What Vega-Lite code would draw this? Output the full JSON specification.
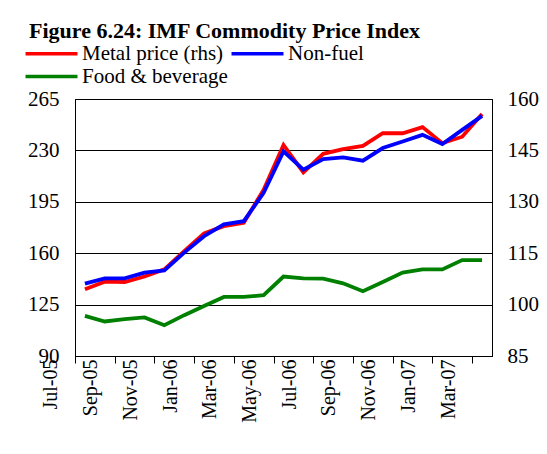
{
  "$schema": "https://vega.github.io/schema/vega-lite/v6.json",
  "width": 417,
  "height": 257,
  "autosize": {"type": "none"},
  "padding": {"left": 75, "top": 99, "right": 55, "bottom": 98},
  "background": "white",
  "title": {
    "text": "Figure 6.24: IMF Commodity Price Index",
    "font": "Liberation Serif",
    "fontSize": 22,
    "fontWeight": "bold",
    "color": "black",
    "anchor": "start",
    "frame": "group",
    "dx": -46,
    "offset": 4,
    "dy": 21,
    "baseline": "alphabetic"
  },
  "config": {
    "view": {"stroke": "black", "strokeWidth": 1},
    "axis": {"labelFont": "Liberation Serif", "labelColor": "black", "domainColor": "black", "tickColor": "black", "title": null},
    "legend": {"labelFont": "Liberation Serif"}
  },
  "data": {
    "values": [
      {"m": "Jul-05", "s": "Non-fuel", "v": 139.3}, {"m": "Aug-05", "s": "Non-fuel", "v": 142.9}, {"m": "Sep-05", "s": "Non-fuel", "v": 142.9},
      {"m": "Oct-05", "s": "Non-fuel", "v": 146.8}, {"m": "Nov-05", "s": "Non-fuel", "v": 148.3}, {"m": "Dec-05", "s": "Non-fuel", "v": 160.4},
      {"m": "Jan-06", "s": "Non-fuel", "v": 171.6}, {"m": "Feb-06", "s": "Non-fuel", "v": 179.6}, {"m": "Mar-06", "s": "Non-fuel", "v": 181.8},
      {"m": "Apr-06", "s": "Non-fuel", "v": 201.1}, {"m": "May-06", "s": "Non-fuel", "v": 229.3}, {"m": "Jun-06", "s": "Non-fuel", "v": 216.9},
      {"m": "Jul-06", "s": "Non-fuel", "v": 224.1}, {"m": "Aug-06", "s": "Non-fuel", "v": 225.2}, {"m": "Sep-06", "s": "Non-fuel", "v": 223.0},
      {"m": "Oct-06", "s": "Non-fuel", "v": 231.6}, {"m": "Nov-06", "s": "Non-fuel", "v": 236.1}, {"m": "Dec-06", "s": "Non-fuel", "v": 240.6},
      {"m": "Jan-07", "s": "Non-fuel", "v": 234.3}, {"m": "Feb-07", "s": "Non-fuel", "v": 244.0}, {"m": "Mar-07", "s": "Non-fuel", "v": 253.5},
      {"m": "Jul-05", "s": "Food & beverage", "v": 117.3}, {"m": "Aug-05", "s": "Food & beverage", "v": 113.5}, {"m": "Sep-05", "s": "Food & beverage", "v": 115.1},
      {"m": "Oct-05", "s": "Food & beverage", "v": 116.3}, {"m": "Nov-05", "s": "Food & beverage", "v": 111.0}, {"m": "Dec-05", "s": "Food & beverage", "v": 117.8},
      {"m": "Jan-06", "s": "Food & beverage", "v": 124.1}, {"m": "Feb-06", "s": "Food & beverage", "v": 130.2}, {"m": "Mar-06", "s": "Food & beverage", "v": 130.2},
      {"m": "Apr-06", "s": "Food & beverage", "v": 131.4}, {"m": "May-06", "s": "Food & beverage", "v": 144.1}, {"m": "Jun-06", "s": "Food & beverage", "v": 142.9},
      {"m": "Jul-06", "s": "Food & beverage", "v": 142.7}, {"m": "Aug-06", "s": "Food & beverage", "v": 139.5}, {"m": "Sep-06", "s": "Food & beverage", "v": 134.1},
      {"m": "Oct-06", "s": "Food & beverage", "v": 140.4}, {"m": "Nov-06", "s": "Food & beverage", "v": 146.8}, {"m": "Dec-06", "s": "Food & beverage", "v": 149.0},
      {"m": "Jan-07", "s": "Food & beverage", "v": 149.0}, {"m": "Feb-07", "s": "Food & beverage", "v": 155.3}, {"m": "Mar-07", "s": "Food & beverage", "v": 155.3},
      {"m": "Jul-05", "s": "Metal price (rhs)", "v": 104.5}, {"m": "Aug-05", "s": "Metal price (rhs)", "v": 106.7}, {"m": "Sep-05", "s": "Metal price (rhs)", "v": 106.6},
      {"m": "Oct-05", "s": "Metal price (rhs)", "v": 108.2}, {"m": "Nov-05", "s": "Metal price (rhs)", "v": 110.3}, {"m": "Dec-05", "s": "Metal price (rhs)", "v": 115.6},
      {"m": "Jan-06", "s": "Metal price (rhs)", "v": 120.8}, {"m": "Feb-06", "s": "Metal price (rhs)", "v": 122.9}, {"m": "Mar-06", "s": "Metal price (rhs)", "v": 123.9},
      {"m": "Apr-06", "s": "Metal price (rhs)", "v": 133.5}, {"m": "May-06", "s": "Metal price (rhs)", "v": 146.6}, {"m": "Jun-06", "s": "Metal price (rhs)", "v": 138.6},
      {"m": "Jul-06", "s": "Metal price (rhs)", "v": 144.0}, {"m": "Aug-06", "s": "Metal price (rhs)", "v": 145.4}, {"m": "Sep-06", "s": "Metal price (rhs)", "v": 146.3},
      {"m": "Oct-06", "s": "Metal price (rhs)", "v": 150.0}, {"m": "Nov-06", "s": "Metal price (rhs)", "v": 150.0}, {"m": "Dec-06", "s": "Metal price (rhs)", "v": 151.8},
      {"m": "Jan-07", "s": "Metal price (rhs)", "v": 147.1}, {"m": "Feb-07", "s": "Metal price (rhs)", "v": 149.0}, {"m": "Mar-07", "s": "Metal price (rhs)", "v": 155.6}
    ]
  },
  "encoding": {
    "x": {
      "field": "m",
      "type": "ordinal",
      "scale": {
        "type": "point",
        "padding": 0.5,
        "domain": ["Jul-05", "Aug-05", "Sep-05", "Oct-05", "Nov-05", "Dec-05", "Jan-06", "Feb-06", "Mar-06", "Apr-06", "May-06", "Jun-06", "Jul-06", "Aug-06", "Sep-06", "Oct-06", "Nov-06", "Dec-06", "Jan-07", "Feb-07", "Mar-07"]
      },
      "axis": {
        "values": ["Jul-05", "Sep-05", "Nov-05", "Jan-06", "Mar-06", "May-06", "Jul-06", "Sep-06", "Nov-06", "Jan-07", "Mar-07"],
        "tickOffset": -9.93,
        "labelOffset": -24,
        "labelAngle": 270,
        "labelAlign": "right",
        "labelBaseline": "middle",
        "labelFontSize": 20,
        "tickSize": 7,
        "labelPadding": -4,
        "grid": false
      }
    },
    "color": {
      "field": "s",
      "type": "nominal",
      "scale": {"domain": ["Metal price (rhs)", "Non-fuel", "Food & beverage"], "range": ["#FF0000", "#0000FF", "#008000"]},
      "legend": {
        "orient": "none",
        "direction": "horizontal",
        "legendX": -34,
        "legendY": -56,
        "columns": 2,
        "symbolType": "M-5,0H5",
        "symbolSize": 108,
        "symbolStrokeWidth": 3.5,
        "symbolFillColor": "transparent",
        "labelFont": "Liberation Serif",
        "labelFontSize": 21,
        "labelColor": "black",
        "labelOffset": 20,
        "columnPadding": -4,
        "rowPadding": 1,
        "padding": 0,
        "title": null,
        "labelLimit": 400
      }
    }
  },
  "layer": [
    {
      "transform": [{"filter": "datum.s == 'Metal price (rhs)'"}],
      "mark": {"type": "line", "strokeWidth": 3.8, "strokeJoin": "miter"},
      "encoding": {
        "y": {
          "field": "v",
          "type": "quantitative",
          "scale": {"domain": [85, 160], "nice": false, "zero": false},
          "axis": {"orient": "right", "values": [85, 100, 115, 130, 145, 160], "grid": false, "ticks": false, "labelPadding": 15, "labelFontSize": 21}
        }
      }
    },
    {
      "transform": [{"filter": "datum.s != 'Metal price (rhs)'"}],
      "mark": {"type": "line", "strokeWidth": 3.8, "strokeJoin": "miter"},
      "encoding": {
        "y": {
          "field": "v",
          "type": "quantitative",
          "scale": {"domain": [90, 265], "nice": false, "zero": false},
          "axis": {"orient": "left", "values": [90, 125, 160, 195, 230, 265], "grid": true, "gridColor": "black", "gridOpacity": 1, "gridWidth": 1.2, "ticks": false, "labelPadding": 16, "labelFontSize": 21}
        }
      }
    }
  ],
  "resolve": {"scale": {"y": "independent"}}
}
